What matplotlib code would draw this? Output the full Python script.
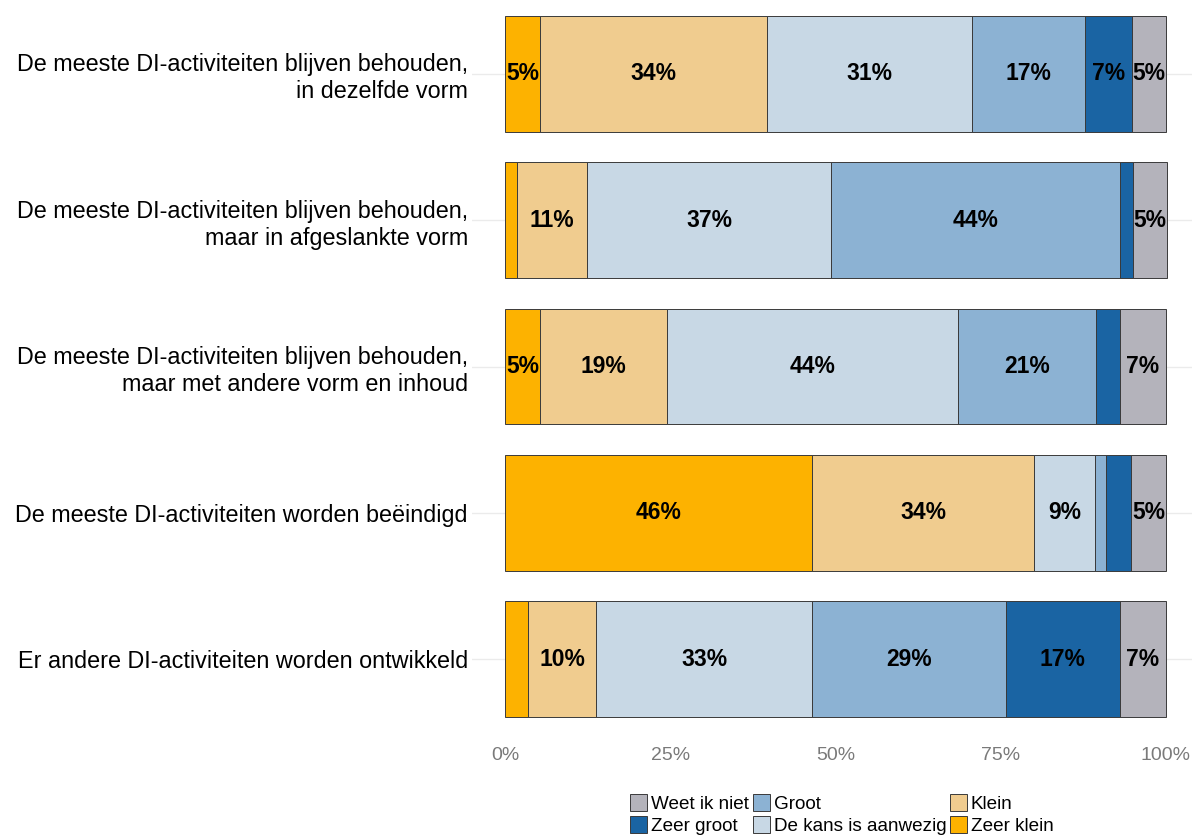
import matplotlib.pyplot as plt
import numpy as np

categories = [
    "De meeste DI-activiteiten blijven behouden,\nin dezelfde vorm",
    "De meeste DI-activiteiten blijven behouden,\nmaar in afgeslankte vorm",
    "De meeste DI-activiteiten blijven behouden,\nmaar met andere vorm en inhoud",
    "De meeste DI-activiteiten worden beëindigd",
    "Er andere DI-activiteiten worden ontwikkeld",
]
levels = ["Zeer klein", "Klein", "De kans is aanwezig", "Groot", "Zeer groot", "Weet ik niet"]
zeer_klein = [5.3, 1.8, 5.3, 46.4, 3.5]
klein = [34.3, 10.6, 19.2, 33.7, 10.3]
kans = [31.0, 36.9, 44.0, 9.1, 32.7]
groot = [17.2, 43.7, 20.9, 1.7, 29.3]
zeer_groot = [7.0, 2.0, 3.6, 3.8, 17.2]
weet_niet = [5.2, 5.1, 7.0, 5.3, 7.0]
colors = ["#FDB200", "#F0CC8F", "#C8D8E5", "#8CB2D3", "#1A64A3", "#B4B3BB"]

series = [zeer_klein, klein, kans, groot, zeer_groot, weet_niet]

fig = plt.figure(figsize=(11.92, 8.36), dpi=100)
ax = fig.add_axes([472 / 1192, (836 - 747) / 836, 727 / 1192, 761 / 836])

y = np.arange(len(categories))
left = np.zeros(len(categories))
handles = {}
for name, vals, col in zip(levels, series, colors):
    v = np.array(vals) / 100
    b = ax.barh(y, v, left=left, height=0.79, color=col, edgecolor="#3a3a3a",
                linewidth=0.7, zorder=2)
    handles[name] = b
    for yi, l, w, raw in zip(y, left, v, vals):
        if raw >= 4.5:
            ax.text(l + w / 2, yi, f"{round(raw)}%", ha="center", va="center",
                    fontsize=16.5, fontweight="bold",
                    family=["Liberation Sans Narrow", "Liberation Sans"], zorder=3)
    left += v

ax.set_xlim(-0.05, 1.05)
ax.set_ylim(len(categories) - 0.4, -0.6)
ax.set_yticks(y)
ax.set_yticklabels(categories, fontsize=16.8, family="Liberation Sans", ha="right",
                   linespacing=1.22)
ax.set_xticks([0, 0.25, 0.5, 0.75, 1.0])
ax.set_xticklabels(["0%", "25%", "50%", "75%", "100%"], fontsize=14,
                   family="Liberation Sans", color="#7a7a7a")
ax.tick_params(axis="both", length=0)
ax.tick_params(axis="y", pad=3)
ax.tick_params(axis="x", pad=0)
ax.grid(axis="y", color="#ebebeb", linewidth=1, zorder=0)
ax.set_axisbelow(True)
for s in ax.spines.values():
    s.set_visible(False)

order = ["Weet ik niet", "Zeer groot", "Groot", "De kans is aanwezig", "Klein", "Zeer klein"]
fig.legend([handles[o] for o in order], order, loc="lower center", ncol=3,
           bbox_to_anchor=(842 / 1192, -0.015), frameon=False,
           prop={"family": "Liberation Sans", "size": 13.6},
           handlelength=0.9, handleheight=1.0, handletextpad=0.2,
           columnspacing=0.2, labelspacing=0.2, borderpad=0.2)

fig.savefig("out.png", dpi=100)
